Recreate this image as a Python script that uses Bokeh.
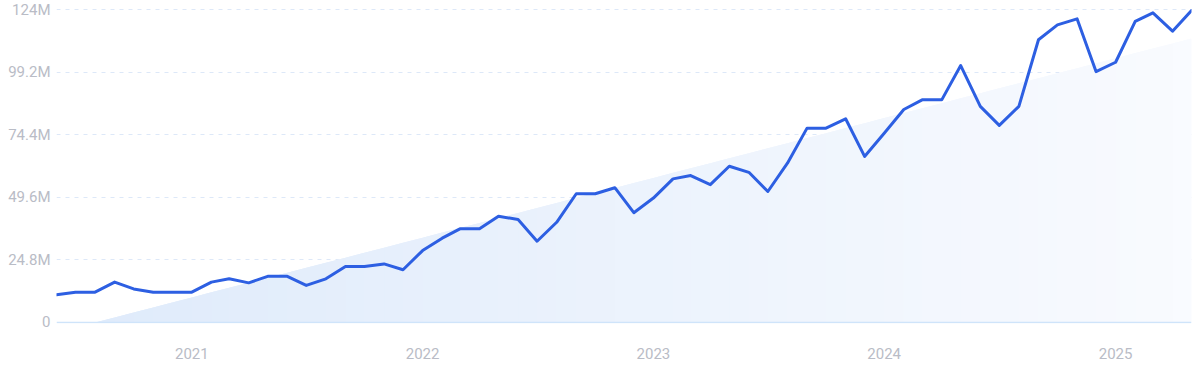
import numpy as np
import pandas as pd
from bokeh.plotting import figure
from bokeh.models import FixedTicker, Range1d, Span, DatetimeTickFormatter
from bokeh.embed import file_html
from bokeh.resources import INLINE

# ---- data ----
months = pd.date_range("2020-06-01", periods=60, freq="MS")
values_m = [
    11.0, 12.0, 12.0, 16.0, 13.3, 12.0, 12.0, 12.0, 16.0, 17.3, 15.7, 18.3,
    18.3, 14.7, 17.3, 22.2, 22.2, 23.2, 20.9, 28.5, 33.4, 37.1, 37.1, 42.1,
    40.8, 32.2, 39.7, 51.0, 51.0, 53.4, 43.5, 49.3, 56.9, 58.2, 54.6, 61.9,
    59.5, 51.9, 63.1, 77.0, 77.0, 80.7, 65.8, 75.0, 84.4, 88.2, 88.2, 101.8,
    85.6, 78.1, 85.6, 112.0, 117.9, 120.3, 99.4, 103.1, 119.3, 122.7, 115.4, 123.6,
]
values = [v * 1e6 for v in values_m]

trend_dates = [pd.Timestamp("2020-06-01"), pd.Timestamp("2020-08-01"), pd.Timestamp("2025-05-01")]
trend_values = [0.0, 0.0, 112.5e6]

y_tick_values = [0, 24.8e6, 49.6e6, 74.4e6, 99.2e6, 124e6]
y_tick_labels = ["0", "24.8M", "49.6M", "74.4M", "99.2M", "124M"]
x_tick_dates = ["2021-01-01", "2022-01-01", "2023-01-01", "2024-01-01", "2025-01-01"]

# ---- figure ----
FONT = "Roboto"
LABEL_COLOR = "#b9bcc6"

p = figure(
    width=1192, height=361, x_axis_type="datetime",
    output_backend="svg", toolbar_location=None,
    min_border_left=56, min_border_right=1, min_border_top=8, min_border_bottom=0,
)
p.outline_line_color = None
p.background_fill_color = "white"
p.border_fill_color = "white"

p.x_range = Range1d(months[0], months[-1])
p.y_range = Range1d(-0.4e6, 124.4e6)

# ---- trend area with horizontal gradient (strips) ----
tx = np.array([d.value / 1e6 for d in trend_dates])  # ms
ty = np.array(trend_values)
grid_x = np.array([d.value / 1e6 for d in months])
n_strips = len(grid_x) - 1
c_left = np.array([0xdf, 0xeb, 0xfb])
c_right = np.array([0xf9, 0xfb, 0xff])
for i in range(n_strips):
    idx = list(range(i, min(i + 3, len(grid_x))))
    xs = grid_x[idx]
    ys = np.interp(xs, tx, ty)
    t = i / (n_strips - 1)
    c = (c_left * (1 - t) + c_right * t).astype(int)
    col = "#%02x%02x%02x" % tuple(c)
    p.varea(x=xs, y1=np.zeros(len(xs)), y2=ys, fill_color=col, fill_alpha=1.0)

# ---- grid & baseline ----
p.xgrid.visible = False
p.ygrid.ticker = FixedTicker(ticks=y_tick_values[1:])
p.ygrid.grid_line_color = "#dde8f8"
p.ygrid.grid_line_dash = "4 5"
p.ygrid.grid_line_width = 1
p.add_layout(Span(location=0, dimension="width", line_color="#cfe4fa", line_width=1.5))

# ---- main line ----
p.line(months, values, line_color="#2d5fe2", line_width=3, line_join="round", line_cap="round")

# ---- axes ----
p.yaxis.ticker = FixedTicker(ticks=y_tick_values)
p.yaxis.major_label_overrides = {v: l for v, l in zip(y_tick_values, y_tick_labels)}
p.yaxis.axis_line_color = None
p.yaxis.major_tick_line_color = None
p.yaxis.minor_tick_line_color = None
p.yaxis.major_tick_out = 0
p.yaxis.major_tick_in = 0
p.yaxis.major_label_standoff = 6
p.yaxis.major_label_text_font = FONT
p.yaxis.major_label_text_font_size = "15px"
p.yaxis.major_label_text_color = LABEL_COLOR

p.xaxis.ticker = FixedTicker(ticks=[pd.Timestamp(d).value / 1e6 for d in x_tick_dates])
p.xaxis.formatter = DatetimeTickFormatter(years="%Y", months="%Y", days="%Y")
p.xaxis.axis_line_color = None
p.xaxis.major_tick_line_color = None
p.xaxis.minor_tick_line_color = None
p.xaxis.major_tick_out = 0
p.xaxis.major_tick_in = 0
p.xaxis.major_label_standoff = 24
p.xaxis.major_label_text_font = FONT
p.xaxis.major_label_text_font_size = "15px"
p.xaxis.major_label_text_color = LABEL_COLOR

open("out.html", "w").write(file_html(p, INLINE))
